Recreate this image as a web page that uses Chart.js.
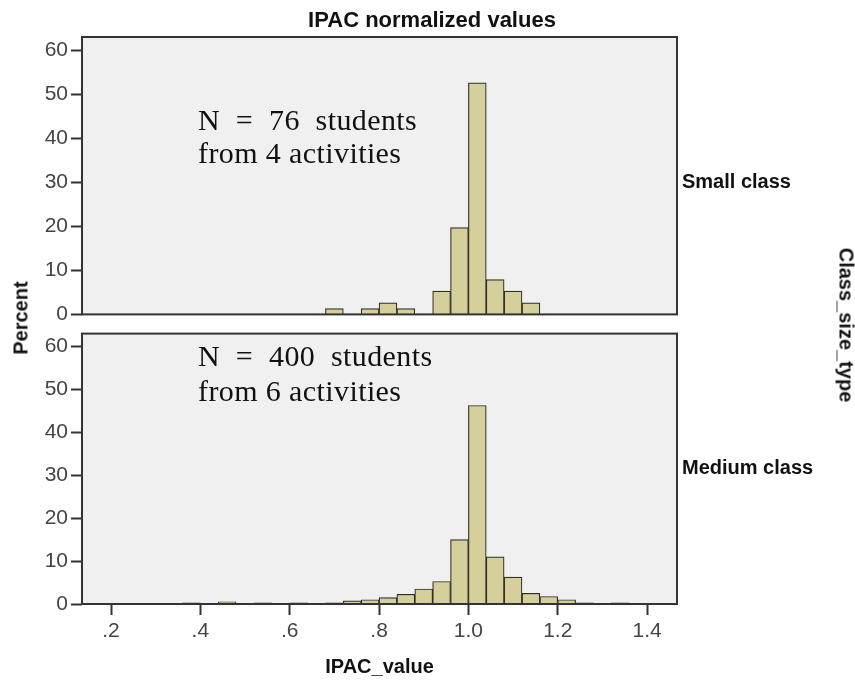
<!DOCTYPE html>
<html>
<head>
<meta charset="utf-8">
<script src="https://cdn.jsdelivr.net/npm/chart.js@4/dist/chart.umd.min.js"></script>
<style>
  body { margin: 0; background: #fff; }
  #wrap { position: relative; width: 855px; height: 680px; overflow: hidden; font-family: "Liberation Sans", Arial, sans-serif; }
  canvas { position: absolute; left: 0; }
  #topChart { top: 0; }
  #bottomChart { top: 318px; }
  .lbl { position: absolute; font-weight: bold; font-size: 20px; color: #111; white-space: nowrap; }
  .note { position: absolute; font-family: "Liberation Serif", "Times New Roman", serif; font-size: 30px; letter-spacing: 0.4px; color: #111; white-space: pre; }
</style>
</head>
<body>
<div id="wrap">
  <canvas id="topChart" width="855" height="330"></canvas>
  <canvas id="bottomChart" width="855" height="362"></canvas>

  <div class="lbl" style="left:432px; top:20px; font-size:22px; transform:translate(-50%,-50%);">IPAC normalized values</div>
  <div class="lbl" style="left:21px; top:318px; transform:translate(-50%,-50%) rotate(-90deg);">Percent</div>
  <div class="lbl" style="left:846px; top:325px; transform:translate(-50%,-50%) rotate(90deg);">Class_size_type</div>
  <div class="lbl" style="left:682px; top:181px; transform:translateY(-50%);">Small class</div>
  <div class="lbl" style="left:682px; top:467px; transform:translateY(-50%);">Medium class</div>

  <div class="note" style="left:198px; top:103px; line-height:33px;">N  =  76  students
from 4 activities</div>
  <div class="note" style="left:198px; top:338px; line-height:35px;">N  =  400  students
from 6 activities</div>
</div>

<script>
// bin centers (bins are 0.04 wide)
const binCenters = [0.38, 0.42, 0.46, 0.50, 0.54, 0.58, 0.62, 0.66, 0.70, 0.74, 0.78, 0.82, 0.86,
                    0.90, 0.94, 0.98, 1.02, 1.06, 1.10, 1.14, 1.18, 1.22, 1.26, 1.30, 1.34];
// percent of students per bin
const smallClass  = [0, 0, 0, 0, 0, 0, 0, 0, 1.3, 0, 1.3, 2.6, 1.3,
                     0, 5.3, 19.7, 52.6, 7.9, 5.3, 2.6, 0, 0, 0, 0, 0];
const mediumClass = [0.25, 0, 0.5, 0, 0.25, 0, 0.25, 0, 0.25, 0.75, 1.0, 1.5, 2.25,
                     3.5, 5.25, 15.0, 46.25, 11.0, 6.25, 2.5, 1.75, 1.0, 0.25, 0, 0.25];

const xTickValues = [0.2, 0.4, 0.6, 0.8, 1.0, 1.2, 1.4];
const xTickLabels = [".2", ".4", ".6", ".8", "1.0", "1.2", "1.4"];
const yTickValues = [0, 10, 20, 30, 40, 50, 60];

const tickFont = { family: "'Liberation Sans', Arial, sans-serif", size: 21 };

/* panel background + frame */
const panelFrame = {
  id: "panelFrame",
  beforeDraw(chart) {
    const a = chart.chartArea, ctx = chart.ctx;
    ctx.save();
    ctx.fillStyle = "#f0f0f0";
    ctx.fillRect(a.left, a.top, a.right - a.left, a.bottom - a.top);
    ctx.restore();
  },
  afterDatasetsDraw(chart) {
    const a = chart.chartArea, ctx = chart.ctx;
    ctx.save();
    ctx.strokeStyle = "#333";
    ctx.lineWidth = 2;
    ctx.strokeRect(a.left, a.top, a.right - a.left, a.bottom - a.top);
    ctx.restore();
  }
};

function makePanel(canvasId, values, showX, padding) {
  const xScale = {
    type: "linear",
    offset: false,
    min: 0.135,
    max: 1.467,
    display: showX,
    afterBuildTicks: s => { s.ticks = xTickValues.map(v => ({ value: v })); },
    ticks: {
      color: "#444",
      font: tickFont,
      padding: 4,
      callback: (v) => xTickLabels[xTickValues.indexOf(Math.round(v * 10) / 10)]
    },
    grid: { offset: false, drawOnChartArea: false, drawTicks: true, tickLength: 11, tickColor: "#333", tickWidth: 2 },
    border: { display: false }
  };
  if (showX) {
    xScale.title = {
      display: true, text: "IPAC_value", color: "#111",
      font: { family: "'Liberation Sans', Arial, sans-serif", size: 20, weight: "bold" },
      padding: { top: 0, bottom: 1 }
    };
    xScale.afterFit = s => { s.height = 76; };
  }

  return new Chart(document.getElementById(canvasId), {
    type: "bar",
    data: {
      datasets: [{
        data: binCenters.map((c, i) => ({ x: c, y: values[i] })),
        backgroundColor: "#d5d09b",
        borderColor: "#2f2f25",
        borderWidth: 1.2,
        barPercentage: 1,
        categoryPercentage: 1
      }]
    },
    options: {
      responsive: false,
      animation: false,
      layout: { padding: padding },
      plugins: { legend: { display: false }, tooltip: { enabled: false } },
      scales: {
        x: xScale,
        y: {
          min: 0,
          max: 63,
          afterFit: s => { s.width = 82; },
          afterBuildTicks: s => { s.ticks = yTickValues.map(v => ({ value: v })); },
          ticks: { color: "#444", font: tickFont, padding: 3 },
          grid: { drawOnChartArea: false, drawTicks: true, tickLength: 11, tickColor: "#333", tickWidth: 2 },
          border: { display: false }
        }
      }
    },
    plugins: [panelFrame]
  });
}

makePanel("topChart", smallClass, false, { left: 0, right: 178, top: 37, bottom: 14 });
makePanel("bottomChart", mediumClass, true, { left: 0, right: 178, top: 7, bottom: 0 });
</script>
</body>
</html>
